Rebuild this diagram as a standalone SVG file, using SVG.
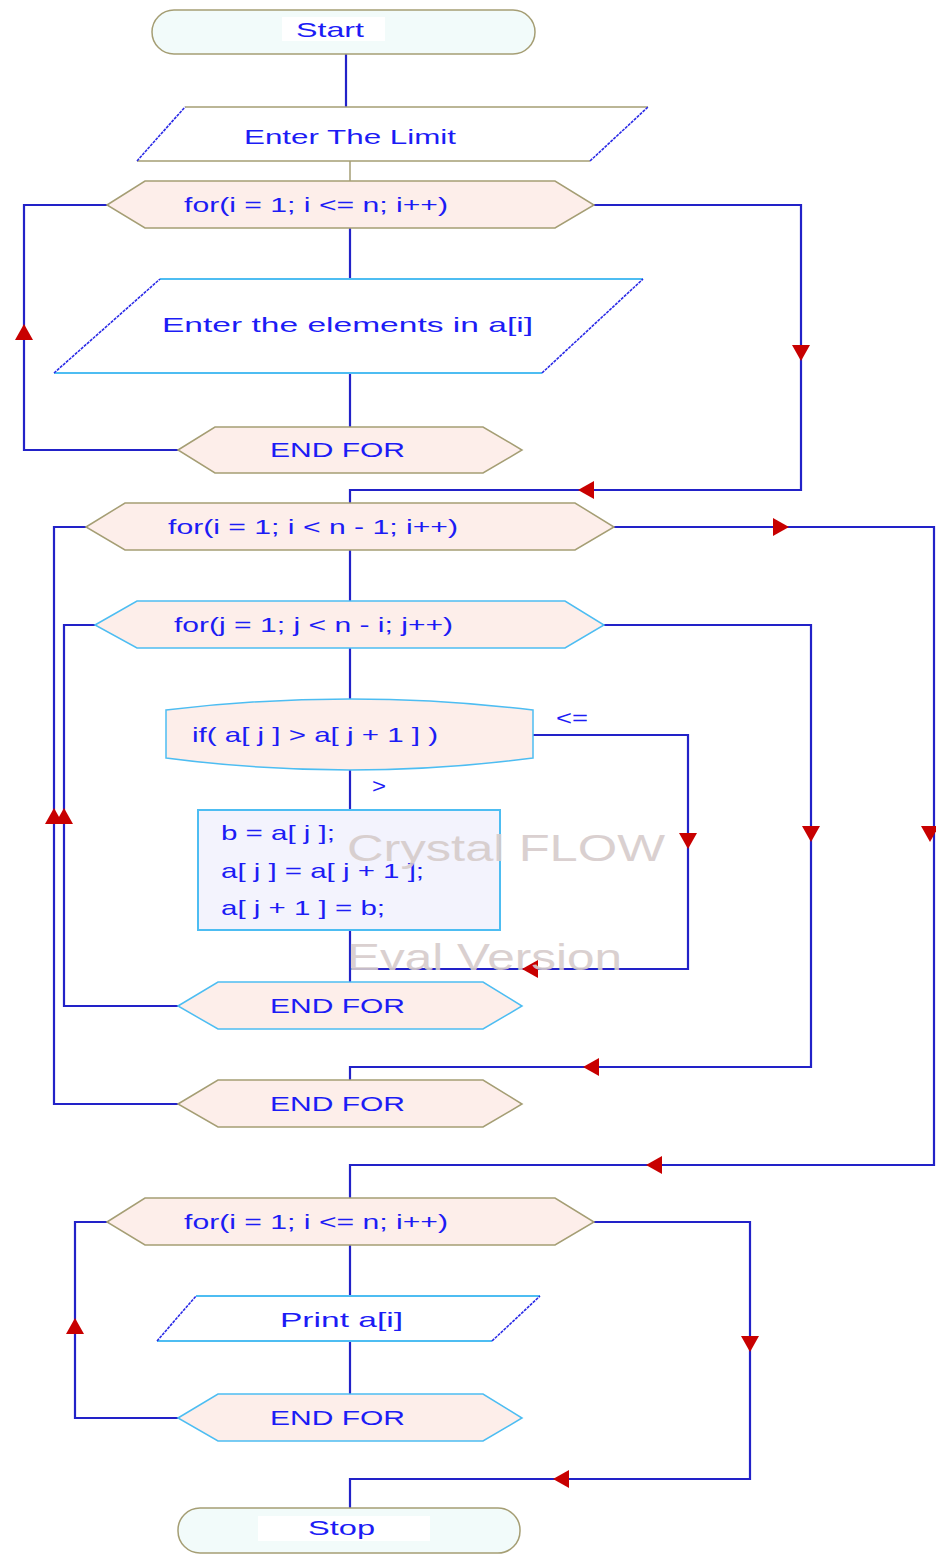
<svg xmlns="http://www.w3.org/2000/svg" xmlns:xlink="http://www.w3.org/1999/xlink" width="936" height="1554" viewBox="0 0 936 1554">
  <style>
    .lbl { font-family: "Liberation Sans", Arial, sans-serif; font-size: 21px; fill: #1c1cf5; }
    .wm { font-family: "Liberation Sans", Arial, sans-serif; font-size: 37px; fill: #d6cccb; opacity: 0.9; }
    .wire { fill: none; stroke: #2222c8; stroke-width: 2.2; }
    .term { fill: #f2fbfa; stroke: #a59e74; stroke-width: 1.5; }
    .loopA { fill: #fdeeea; stroke: #a59e74; stroke-width: 1.5; }
    .loopB { fill: #fdeeea; stroke: #4dbdf2; stroke-width: 1.5; }
    .edgeA { fill: none; stroke: #a59e74; stroke-width: 1.5; }
    .edgeB { fill: none; stroke: #4dbdf2; stroke-width: 2; }
    .slant { fill: none; stroke: #2a2ae6; stroke-width: 1.6; stroke-dasharray: 3 1; }
    .proc { fill: #f3f3fd; stroke: #4dbdf2; stroke-width: 2; }
    .head { fill: #c80000; }
  </style>
  <defs>
    <!-- arrowhead pointing down, centred on the origin -->
    <path id="ah" d="M-9,-7 L9,-7 L0,9 Z"/>
  </defs>

  <rect width="936" height="1554" fill="#ffffff"/>

  <!-- connectors -->
  <g id="connectors">
    <path class="wire" d="M346,54 V107"/>
    <path class="edgeA" d="M350,161 V181"/>
    <path class="wire" d="M350,228 V279"/>
    <path class="wire" d="M350,373 V427"/>
    <!-- first input loop -->
    <path class="wire" d="M107,205 H24 V450 H178"/>
    <path class="wire" d="M594,205 H801 V490 H350 V503"/>
    <!-- outer sort loop -->
    <path class="wire" d="M350,550 V601"/>
    <path class="wire" d="M86,527 H54 V1104 H178"/>
    <path class="wire" d="M614,527 H934 V1165 H350 V1198"/>
    <!-- inner sort loop -->
    <path class="wire" d="M350,648 V699"/>
    <path class="wire" d="M95,625 H64 V1006 H178"/>
    <path class="wire" d="M604,625 H811 V1067 H350 V1080"/>
    <!-- compare / swap -->
    <path class="wire" d="M350,770 V810"/>
    <path class="wire" d="M350,930 V982"/>
    <path class="wire" d="M533,735 H688 V969 H350"/>
    <!-- print loop -->
    <path class="wire" d="M350,1245 V1296"/>
    <path class="wire" d="M350,1341 V1394"/>
    <path class="wire" d="M107,1222 H75 V1418 H178"/>
    <path class="wire" d="M594,1222 H750 V1479 H350 V1508"/>

    <!-- arrowheads -->
    <g class="head">
      <use xlink:href="#ah" transform="translate(24,333) rotate(180)"/>
      <use xlink:href="#ah" transform="translate(801,352)"/>
      <use xlink:href="#ah" transform="translate(587,490) rotate(90)"/>
      <use xlink:href="#ah" transform="translate(780,527) rotate(-90)"/>
      <use xlink:href="#ah" transform="translate(54,817) rotate(180)"/>
      <use xlink:href="#ah" transform="translate(64,817) rotate(180)"/>
      <use xlink:href="#ah" transform="translate(688,840)"/>
      <use xlink:href="#ah" transform="translate(811,833)"/>
      <use xlink:href="#ah" transform="translate(930,833)"/>
      <use xlink:href="#ah" transform="translate(531,969) rotate(90)"/>
      <use xlink:href="#ah" transform="translate(592,1067) rotate(90)"/>
      <use xlink:href="#ah" transform="translate(655,1165) rotate(90)"/>
      <use xlink:href="#ah" transform="translate(75,1327) rotate(180)"/>
      <use xlink:href="#ah" transform="translate(750,1343)"/>
      <use xlink:href="#ah" transform="translate(562,1479) rotate(90)"/>
    </g>
  </g>

  <!-- start -->
  <g id="start">
    <rect class="term" x="152" y="10" width="383" height="44" rx="22"/>
    <rect x="282" y="17" width="103" height="24" fill="#ffffff"/>
    <text class="lbl" x="296" y="37" textLength="68" lengthAdjust="spacingAndGlyphs">Start</text>
  </g>

  <!-- read limit -->
  <g id="enter-limit">
    <path class="edgeA" d="M185,107 H648 M137,161 H590"/>
    <path class="slant" d="M137,161 L185,107 M590,161 L648,107"/>
    <text class="lbl" x="244" y="144" textLength="212" lengthAdjust="spacingAndGlyphs">Enter The Limit</text>
  </g>

  <g id="for-read">
    <polygon class="loopA" points="107,205 145,181 555,181 594,205 555,228 145,228"/>
    <text class="lbl" x="184" y="212" textLength="264" lengthAdjust="spacingAndGlyphs">for(i = 1; i &lt;= n; i++)</text>
  </g>

  <g id="enter-elements">
    <path class="edgeB" d="M160,279 H643 M54,373 H542"/>
    <path class="slant" d="M54,373 L160,279 M542,373 L643,279"/>
    <text class="lbl" x="162" y="332" textLength="371" lengthAdjust="spacingAndGlyphs">Enter the elements in a[i]</text>
  </g>

  <g id="end-for-read">
    <polygon class="loopA" points="178,450 215,427 483,427 522,450 483,473 215,473"/>
    <text class="lbl" x="270" y="457" textLength="135" lengthAdjust="spacingAndGlyphs">END FOR</text>
  </g>

  <g id="for-outer">
    <polygon class="loopA" points="86,527 125,503 575,503 614,527 575,550 125,550"/>
    <text class="lbl" x="168" y="534" textLength="290" lengthAdjust="spacingAndGlyphs">for(i = 1; i &lt; n - 1; i++)</text>
  </g>

  <g id="for-inner">
    <polygon class="loopB" points="95,625 137,601 565,601 604,625 565,648 137,648"/>
    <text class="lbl" x="174" y="632" textLength="279" lengthAdjust="spacingAndGlyphs">for(j = 1; j &lt; n - i; j++)</text>
  </g>

  <g id="compare">
    <path class="loopB" d="M166,710 Q350,688 533,710 L533,758 Q350,782 166,758 Z"/>
    <text class="lbl" x="192" y="742" textLength="246" lengthAdjust="spacingAndGlyphs">if( a[ j ] &gt; a[ j + 1 ] )</text>
    <text class="lbl" x="556" y="725" textLength="32" lengthAdjust="spacingAndGlyphs">&lt;=</text>
    <text class="lbl" x="372" y="793" textLength="14" lengthAdjust="spacingAndGlyphs">&gt;</text>
  </g>

  <g id="swap">
    <rect class="proc" x="198" y="810" width="302" height="120"/>
    <text class="lbl" x="221" y="840" textLength="114" lengthAdjust="spacingAndGlyphs">b = a[ j ];</text>
    <text class="lbl" x="221" y="878" textLength="203" lengthAdjust="spacingAndGlyphs">a[ j ] = a[ j + 1 ];</text>
    <text class="lbl" x="221" y="915" textLength="164" lengthAdjust="spacingAndGlyphs">a[ j + 1 ] = b;</text>
  </g>

  <g id="end-for-inner">
    <polygon class="loopB" points="178,1006 218,982 483,982 522,1006 483,1029 218,1029"/>
    <text class="lbl" x="270" y="1013" textLength="135" lengthAdjust="spacingAndGlyphs">END FOR</text>
  </g>

  <g id="end-for-outer">
    <polygon class="loopA" points="178,1104 218,1080 483,1080 522,1104 483,1127 218,1127"/>
    <text class="lbl" x="270" y="1111" textLength="135" lengthAdjust="spacingAndGlyphs">END FOR</text>
  </g>

  <g id="for-print">
    <polygon class="loopA" points="107,1222 145,1198 555,1198 594,1222 555,1245 145,1245"/>
    <text class="lbl" x="184" y="1229" textLength="264" lengthAdjust="spacingAndGlyphs">for(i = 1; i &lt;= n; i++)</text>
  </g>

  <g id="print">
    <path class="edgeB" d="M196,1296 H540 M157,1341 H492"/>
    <path class="slant" d="M157,1341 L196,1296 M492,1341 L540,1296"/>
    <text class="lbl" x="280" y="1327" textLength="123" lengthAdjust="spacingAndGlyphs">Print a[i]</text>
  </g>

  <g id="end-for-print">
    <polygon class="loopB" points="178,1418 218,1394 483,1394 522,1418 483,1441 218,1441"/>
    <text class="lbl" x="270" y="1425" textLength="135" lengthAdjust="spacingAndGlyphs">END FOR</text>
  </g>

  <g id="stop">
    <rect class="term" x="178" y="1508" width="342" height="45" rx="22"/>
    <rect x="258" y="1516" width="172" height="25" fill="#ffffff"/>
    <text class="lbl" x="308" y="1535" textLength="67" lengthAdjust="spacingAndGlyphs">Stop</text>
  </g>

  <!-- evaluation watermark -->
  <g id="watermark">
    <text class="wm" x="347" y="861" textLength="318" lengthAdjust="spacingAndGlyphs">Crystal FLOW</text>
    <text class="wm" x="347" y="970" textLength="275" lengthAdjust="spacingAndGlyphs">Eval Version</text>
  </g>
</svg>
